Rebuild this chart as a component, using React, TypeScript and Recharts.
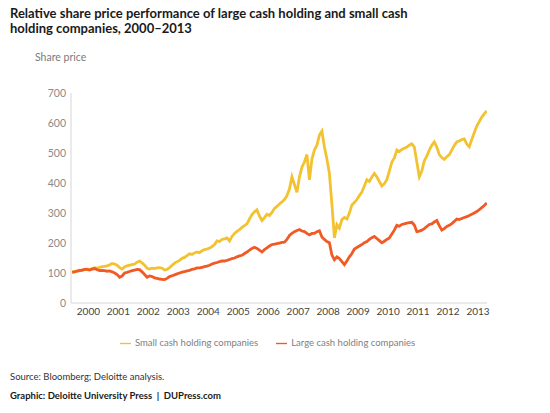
import React from 'react';
import { LineChart, Line, XAxis, YAxis, Legend } from 'recharts';

// monthly readings, first point is December 1999, last is October 2013
const FIRST_YEAR = 1999;
const FIRST_MONTH = 11;

const yearTicks = [2000, 2001, 2002, 2003, 2004, 2005, 2006, 2007, 2008, 2009, 2010, 2011, 2012, 2013];
const priceTicks = [0, 100, 200, 300, 400, 500, 600, 700];

const smallCash = [
  104,
  105, 107, 110, 108, 112, 113, 112, 115, 118, 116, 119, 121, // 2000
  122, 124, 127, 132, 130, 126, 118, 113, 120, 124, 126, 128, // 2001
  130, 136, 140, 134, 126, 116, 113, 116, 115, 117, 118, 116, // 2002
  110, 112, 118, 126, 133, 138, 142, 149, 152, 158, 164, 162, // 2003
  167, 170, 168, 174, 178, 180, 183, 188, 195, 207, 205, 212, // 2004
  214, 217, 207, 222, 232, 239, 245, 252, 258, 264, 280, 295, // 2005
  304, 311, 290, 275, 285, 296, 292, 302, 315, 322, 330, 337, // 2006
  345, 358, 380, 421, 395, 369, 420, 453, 470, 495, 411, 480, // 2007
  510, 526, 560, 573, 520, 480, 432, 330, 217, 262, 250, 278, // 2008
  285, 280, 300, 327, 335, 345, 358, 370, 390, 411, 405, 420, // 2009
  432, 420, 405, 390, 398, 411, 440, 470, 484, 510, 505, 512, // 2010
  516, 520, 526, 531, 520, 470, 421, 440, 474, 490, 510, 526, // 2011
  537, 520, 495, 485, 479, 488, 495, 510, 525, 537, 540, 545, // 2012
  547, 530, 521, 545, 568, 590, 605, 620, 631, 641, // 2013
];

const largeCash = [
  102,
  104, 106, 108, 110, 112, 112, 110, 113, 115, 111, 108, 109, // 2000
  108, 106, 107, 104, 100, 95, 86, 90, 100, 102, 105, 108, // 2001
  110, 112, 111, 104, 95, 86, 90, 88, 84, 82, 80, 79, // 2002
  78, 82, 88, 91, 94, 97, 100, 103, 105, 107, 109, 112, // 2003
  114, 117, 117, 119, 121, 123, 126, 130, 133, 135, 138, 140, // 2004
  140, 142, 145, 148, 150, 154, 157, 159, 165, 170, 176, 182, // 2005
  186, 182, 176, 170, 178, 184, 190, 195, 196, 198, 200, 202, // 2006
  203, 212, 225, 232, 238, 242, 245, 240, 238, 232, 227, 232, // 2007
  232, 238, 241, 220, 212, 205, 201, 160, 144, 154, 148, 138, // 2008
  128, 140, 154, 165, 180, 185, 190, 195, 201, 205, 212, 218, // 2009
  222, 215, 208, 201, 206, 212, 217, 230, 243, 259, 256, 262, // 2010
  264, 266, 268, 269, 260, 238, 240, 243, 248, 255, 262, 264, // 2011
  270, 275, 258, 243, 248, 255, 259, 265, 272, 280, 278, 282, // 2012
  285, 288, 292, 296, 300, 305, 311, 318, 325, 334, // 2013
];

const seriesKeys = [
  { key: 'small', name: 'Small cash holding companies', color: '#F2C230' },
  { key: 'large', name: 'Large cash holding companies', color: '#F15A24' },
];

// year labels sit in the middle of each year, so shift by half a year
const chartData = smallCash.map((value, i) => {
  const m = FIRST_MONTH + i;
  const year = FIRST_YEAR + Math.floor(m / 12);
  const month = m % 12;
  return { t: year + (month + 0.5) / 12 - 0.5, small: value, large: largeCash[i] };
});

const FONT = 'Lato, "Open Sans", sans-serif';

const App: React.FC = () => {
  return (
    <div style={{ position: 'absolute', left: 0, top: 0, width: 550, height: 413, background: '#fff', fontFamily: FONT }}>
      <div style={{ position: 'absolute', left: 10, top: 6, fontSize: 13, fontWeight: 700, lineHeight: '15px', color: '#1a1a1a' }}>
        Relative share price performance of large cash holding and small cash
        <br />
        holding companies, 2000–2013
      </div>
      <div style={{ position: 'absolute', left: 35, top: 51, fontSize: 10.5, color: '#7a7a7a' }}>Share price</div>

      <LineChart
        width={550}
        height={413}
        data={chartData}
        margin={{ top: 81, right: 63, bottom: 80, left: 0 }}
        style={{ position: 'absolute', left: 0, top: 0 }}
      >
        <XAxis
          dataKey="t"
          type="number"
          domain={[1999.42, 2013.3]}
          ticks={yearTicks}
          interval={0}
          height={30}
          tickLine={false}
          tickSize={0}
          tickMargin={5}
          axisLine={{ stroke: '#d6d6d6' }}
          tick={{ fill: '#444', fontSize: 10 }}
          allowDataOverflow
        />
        <YAxis
          type="number"
          domain={[0, 700]}
          ticks={priceTicks}
          width={71}
          tickLine={false}
          tickSize={0}
          tickMargin={5}
          axisLine={{ stroke: '#d6d6d6' }}
          tick={{ fill: '#8a8a8a', fontSize: 10.5 }}
        />
        <Legend
          verticalAlign="top"
          align="left"
          iconType="plainline"
          iconSize={11}
          itemSorter={(item: any) => seriesKeys.findIndex((s) => s.key === item.dataKey)}
          wrapperStyle={{ top: 337, left: 120, width: 320, fontSize: 9.5 }}
          formatter={(value: string) => (
            <span style={{ color: '#808080', marginRight: 8 }}>{value}</span>
          )}
        />
        {seriesKeys.map((sk) => (
          <Line
            key={sk.key}
            type="linear"
            dataKey={sk.key}
            name={sk.name}
            stroke={sk.color}
            strokeWidth={2.8}
            dot={false}
            isAnimationActive={false}
          />
        ))}
      </LineChart>

      <div style={{ position: 'absolute', left: 10, top: 371, fontSize: 9.5, color: '#333' }}>
        Source: Bloomberg; Deloitte analysis.
      </div>
      <div style={{ position: 'absolute', left: 10, top: 390, fontSize: 9.5, fontWeight: 700, color: '#1a1a1a' }}>
        Graphic: Deloitte University Press&nbsp; |&nbsp; DUPress.com
      </div>
    </div>
  );
};

export default App;
